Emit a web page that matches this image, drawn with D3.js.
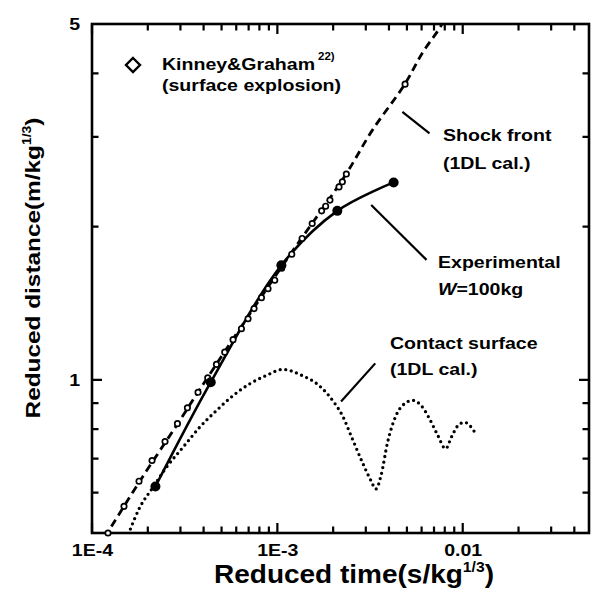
<!DOCTYPE html>
<html><head><meta charset="utf-8">
<script src="https://cdn.jsdelivr.net/npm/d3@7"></script>
<style>
html,body{margin:0;padding:0;background:#fff;}
svg{display:block;}
text{font-family:"Liberation Sans",Arial,Helvetica,sans-serif;font-weight:bold;fill:#000;}
</style></head><body>
<svg id="chart" width="591" height="608"></svg>
<script>
// ---------- data ----------
const xDomain = [1e-4, 0.048];
const yDomain = [0.5, 5];

const xMinorTicks = [2e-4,3e-4,4e-4,5e-4,6e-4,7e-4,8e-4,9e-4,2e-3,3e-3,4e-3,5e-3,6e-3,7e-3,8e-3,9e-3,2e-2,3e-2,4e-2];
const xMajorTicks = [1e-4, 1e-3, 1e-2];
const xMajorLabels = ["1E-4", "1E-3", "0.01"];
const yMinorTicks = [0.6,0.7,0.8,0.9,2,3,4];
const yMajorTicks = [1, 5];
const yMajorLabels = ["1", "5"];

// Kinney & Graham (surface explosion) - open circles
const kgTime = [1.22e-4,1.488e-4,1.793e-4,2.108e-4,2.477e-4,2.89e-4,3.272e-4,3.733e-4,4.211e-4,4.692e-4,5.201e-4,5.768e-4,6.401e-4,6.949e-4,7.487e-4,8.209e-4,8.907e-4,9.68e-4,1.055e-3,1.196e-3,1.36e-3,1.541e-3,1.733e-3,1.822e-3,1.922e-3,2.151e-3,2.242e-3,2.356e-3,4.887e-3];
const kgDist = [0.500,0.564,0.632,0.694,0.756,0.820,0.881,0.945,1.009,1.072,1.133,1.199,1.260,1.318,1.380,1.450,1.510,1.569,1.656,1.765,1.895,2.028,2.147,2.193,2.254,2.393,2.449,2.536,3.809];

// Shock front (1DL cal.) - dashed
const shockTime = [1.17e-4,1.8e-4,2.9e-4,4.2e-4,1.07e-3,2.29e-3,3.25e-3,4.85e-3,6.07e-3,7.69e-3,8.4e-3];
const shockDist = [0.49,0.63,0.82,1.01,1.68,2.50,3.09,3.80,4.39,4.98,5.35];

// Experimental W=100kg - filled circles + solid line
const expTime = [2.199e-4,4.372e-4,1.051e-3,2.106e-3,4.239e-3];
const expDist = [0.617,0.989,1.679,2.147,2.442];

// Contact surface (1DL cal.) - dotted
const csTime = [1.57e-4,1.809e-4,2.134e-4,2.52e-4,3.098e-4,3.813e-4,4.692e-4,5.768e-4,7.10e-4,8.733e-4,1.069e-3,1.355e-3,1.675e-3,2.021e-3,2.242e-3,2.54e-3,2.877e-3,3.196e-3,3.402e-3,3.623e-3,3.933e-3,4.369e-3,4.845e-3,5.374e-3,5.97e-3,6.622e-3,7.345e-3,8.087e-3,8.683e-3,9.43e-3,1.025e-2,1.091e-2,1.176e-2];
const csDist = [0.497,0.561,0.615,0.673,0.737,0.807,0.870,0.931,0.982,1.020,1.048,1.020,0.975,0.903,0.851,0.765,0.688,0.634,0.610,0.648,0.754,0.851,0.897,0.911,0.890,0.838,0.777,0.732,0.771,0.813,0.825,0.813,0.783];

// leader lines [t1, d1, t2, d2]
const leaders = [
  [4.725e-3, 3.36, 6.62e-3, 3.05],
  [3.208e-3, 2.205, 6.378e-3, 1.72],
  [3.373e-3, 1.077, 2.206e-3, 0.906]
];

// ---------- drawing ----------
const svg = d3.select("#chart");
const L = 92, R = 589, T = 24, B = 533;
const x = d3.scaleLog().domain(xDomain).range([L, R]);
const y = d3.scaleLog().domain(yDomain).range([B, T]);
const SX = 1.15;
const MINOR = 6.5, MAJOR = 10;

svg.append("defs").append("clipPath").attr("id","clip")
  .append("rect").attr("x",L).attr("y",T).attr("width",R-L).attr("height",B-T);

// frame
svg.append("rect").attr("x",L).attr("y",T).attr("width",R-L).attr("height",B-T)
  .attr("fill","none").attr("stroke","#000").attr("stroke-width",2.6);

function styleAxis(g){
  g.select(".domain").remove();
  g.attr("font-family",null).attr("font-size",17);
  g.selectAll(".tick line").remove();
  g.selectAll("text").attr("fill","#000").attr("transform",`scale(${SX},1)`);
}
// tick labels through d3 axes
svg.append("g").attr("transform",`translate(0,${B})`)
  .call(d3.axisBottom(x).tickValues(xMajorTicks).tickSize(0).tickPadding(11)
        .tickFormat(d => xMajorLabels[xMajorTicks.indexOf(d)]))
  .call(styleAxis);
svg.append("g").attr("transform",`translate(${L},0)`)
  .call(d3.axisLeft(y).tickValues(yMajorTicks).tickSize(0).tickPadding(10.4)
        .tickFormat(d => yMajorLabels[yMajorTicks.indexOf(d)]))
  .call(styleAxis);

// inward tick marks on all four sides
const xPath = (vals, y0, dir, len) => vals.map(d => `M${x(d)},${y0}v${dir*len}`).join("");
const yPath = (vals, x0, dir, len) => vals.map(d => `M${x0},${y(d)}h${dir*len}`).join("");
const tickD = [
  xPath(xMinorTicks, B, -1, MINOR), xPath(xMajorTicks, B, -1, MAJOR),
  xPath(xMinorTicks, T, 1, MINOR),  xPath(xMajorTicks, T, 1, MAJOR),
  yPath(yMinorTicks, L, 1, MINOR),  yPath(yMajorTicks, L, 1, MAJOR),
  yPath(yMinorTicks, R, -1, MINOR), yPath(yMajorTicks, R, -1, MAJOR)
].join("");
svg.append("path").attr("d", tickD).attr("fill","none").attr("stroke","#000").attr("stroke-width",2.2);

const plot = svg.append("g").attr("clip-path","url(#clip)");
const zip = (a,b) => a.map((v,i)=>[v,b[i]]);

// shock front
plot.append("path").datum(zip(shockTime,shockDist))
  .attr("d", d3.line().x(d=>x(d[0])).y(d=>y(d[1])).curve(d3.curveCatmullRom)).attr("fill","none")
  .attr("stroke","#000").attr("stroke-width",2.8).attr("stroke-dasharray","8,5");

// contact surface
plot.append("path").datum(zip(csTime,csDist))
  .attr("d", d3.line().x(d=>x(d[0])).y(d=>y(d[1])).curve(d3.curveMonotoneX)).attr("fill","none")
  .attr("stroke","#000").attr("stroke-width",3.3).attr("stroke-linecap","round").attr("stroke-dasharray","0,5.6");

// experimental line
svg.append("path").datum(zip(expTime,expDist))
  .attr("d", d3.line().x(d=>x(d[0])).y(d=>y(d[1])).curve(d3.curveCatmullRom)).attr("fill","none")
  .attr("stroke","#000").attr("stroke-width",2.6);

// Kinney & Graham open circles
svg.append("g").selectAll("circle").data(zip(kgTime,kgDist)).join("circle")
  .attr("cx",d=>x(d[0])).attr("cy",d=>y(d[1])).attr("r",2.7)
  .attr("fill","#fff").attr("stroke","#000").attr("stroke-width",1.7);

// experimental filled circles
svg.append("g").selectAll("circle").data(zip(expTime,expDist)).join("circle")
  .attr("cx",d=>x(d[0])).attr("cy",d=>y(d[1])).attr("r",5).attr("fill","#000");

// leader lines
svg.append("g").selectAll("line").data(leaders).join("line")
  .attr("x1",d=>x(d[0])).attr("y1",d=>y(d[1])).attr("x2",d=>x(d[2])).attr("y2",d=>y(d[3]))
  .attr("stroke","#000").attr("stroke-width",2.2);

// text helper
function txt(px, py, size, parts, sx){
  const t = svg.append("text").attr("transform",`translate(${px},${py}) scale(${sx||SX},1)`)
    .attr("font-size",size);
  parts.forEach(p => {
    const s = t.append("tspan").text(p.t);
    if (p.fs) s.attr("font-size",p.fs);
    if (p.dy) s.attr("dy",p.dy);
    if (p.it) s.attr("font-style","italic");
  });
  return t;
}

// legend
svg.append("path")
  .attr("d", d3.symbol().type(d3.symbolDiamond2).size(125)())
  .attr("transform","translate(133,65)")
  .attr("fill","#fff").attr("stroke","#000").attr("stroke-width",2.4);
txt(162, 70, 17, [{t:"Kinney&Graham"}]);
txt(318, 60, 10, [{t:"22)"}]);
txt(162, 91, 17, [{t:"(surface explosion)"}]);

// annotations
txt(443, 141, 17, [{t:"Shock front"}]);
txt(443, 169, 17, [{t:"(1DL cal.)"}]);
txt(438, 268, 17, [{t:"Experimental"}]);
txt(438, 295, 17, [{t:"W", it:true},{t:"=100kg"}]);
txt(390, 349, 17, [{t:"Contact surface"}]);
txt(390, 375, 17, [{t:"(1DL cal.)"}]);

// axis titles
txt(354, 583, 25, [{t:"Reduced time(s/kg"},{t:"1/3",fs:14,dy:-11},{t:")",dy:11}], 1.12)
  .attr("text-anchor","middle");
svg.append("text")
  .attr("transform","translate(40,268) rotate(-90) scale(1.16,1)")
  .attr("font-size",21).attr("text-anchor","middle")
  .call(t => {
    t.append("tspan").text("Reduced distance(m/kg");
    t.append("tspan").text("1/3").attr("font-size",12).attr("dy",-9);
    t.append("tspan").text(")").attr("dy",9);
  });
</script></body></html>
